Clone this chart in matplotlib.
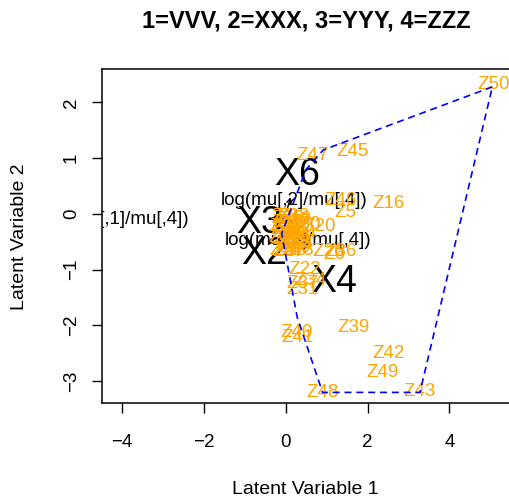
import matplotlib
matplotlib.use("Agg")
from matplotlib import pyplot as plt

plt.rcParams['font.family'] = ['Liberation Sans', 'DejaVu Sans']

# Site scores (latent variable 1 and 2)
site_labels = ['Z' + str(i) for i in range(1, 51)]
site_x = [0.05, 0.15, 0.28, 0.10, 1.45, 1.20, -0.05, 0.20, 0.02, 0.22,
          0.28, -0.02, 0.12, 0.30, 0.05, 2.51, 0.18, 0.00, 0.25, 0.82,
          0.02, 0.45, 0.12, 0.22, 0.00, 1.05, 0.08, 0.28, 0.18, 0.45,
          0.42, 0.08, 0.25, 0.60, 0.05, 1.35, 0.40, 0.18, 1.65, 0.26,
          0.28, 2.52, 3.28, 0.35, 1.63, 1.34, 0.65, 0.89, 2.36, 5.07]
site_y = [-0.35, -0.45, -0.25, -0.20, 0.02, -0.72, -0.05, -0.30, -0.55, -0.60,
          -0.42, -0.42, -0.65, -0.55, -0.15, 0.18, -0.15, -0.65, -0.10, -0.22,
          -0.28, -1.00, -0.55, -0.38, -0.22, -0.68, -0.68, -0.65, -0.48, -0.18,
          -1.36, -0.45, -0.52, -1.20, -0.08, -0.68, -1.25, -0.05, -2.03, -2.12,
          -2.21, -2.51, -3.19, -0.35, 1.12, 0.25, 1.04, -3.20, -2.85, 2.32]

# Predictor labels (big) with their arrow tips
pred_labels = ['X2', 'X3', 'X4', 'X6']
pred_x = [-0.53, -0.65, 1.18, 0.28]
pred_y = [-0.71, -0.17, -1.22, 0.70]
arrow_x = [-0.27, -0.33, 0.59, 0.14]
arrow_y = [-0.36, -0.09, -0.61, 0.35]

# Log-ratio labels
ratio_labels = ['log(mu[,1]/mu[,4])', 'log(mu[,2]/mu[,4])', 'log(mu[,3]/mu[,4])']
ratio_x = [-4.15, 0.20, 0.29]
ratio_y = [-0.10, 0.24, -0.48]

# Hull around the group
hull_x = [5.05, 0.92, 0.50, -0.10, 0.28, 0.90, 3.28, 5.05]
hull_y = [2.28, 1.15, 0.80, -0.35, -1.85, -3.20, -3.20, 2.28]

fig = plt.figure(figsize=(5.09, 5.0), dpi=100)
ax = fig.add_axes([102 / 509, 97 / 500, 410 / 509, 334 / 500])

for xa, ya in zip(arrow_x, arrow_y):
    ax.annotate('', xy=(xa, ya), xytext=(0, 0),
                arrowprops=dict(arrowstyle='->', color='black', lw=1,
                                mutation_scale=8))

for lab, xx, yy in zip(pred_labels, pred_x, pred_y):
    ax.text(xx, yy, lab, fontsize=27, ha='center', va='center',
            color='black', clip_on=True)

for lab, xx, yy in zip(ratio_labels, ratio_x, ratio_y):
    ax.text(xx, yy, lab, fontsize=13.5, ha='center', va='center',
            color='black', clip_on=True)

for lab, xx, yy in zip(site_labels, site_x, site_y):
    ax.text(xx, yy, lab, fontsize=13.5, ha='center', va='center',
            color='#FFA500', clip_on=True)

ax.plot(hull_x, hull_y, color='blue', lw=1.2, linestyle=(0, (4.2, 2.9)),
        zorder=5)

ax.set_xlim(-4.49, 5.53)
ax.set_ylim(-3.39, 2.60)
ax.set_xticks([-4, -2, 0, 2, 4])
ax.set_yticks([-3, -2, -1, 0, 1, 2])
ax.tick_params(direction='out', length=7, width=1, labelsize=13.5)
ax.tick_params(axis='x', pad=15)
ax.tick_params(axis='y', pad=9, labelrotation=90)
for lab in ax.get_yticklabels():
    lab.set_va('center')
for s in ax.spines.values():
    s.set_linewidth(1.1)

fig.text(305 / 509, 1 - 489 / 500, 'Latent Variable 1', fontsize=14,
         ha='center', va='center')
fig.text(20 / 509, 1 - 237 / 500, 'Latent Variable 2', fontsize=14,
         ha='center', va='center', rotation=90)
fig.text(306 / 509, 1 - 21 / 500, '1=VVV, 2=XXX, 3=YYY, 4=ZZZ', fontsize=17,
         fontweight='bold', ha='center', va='center')

fig.savefig('out.png', dpi=100)
